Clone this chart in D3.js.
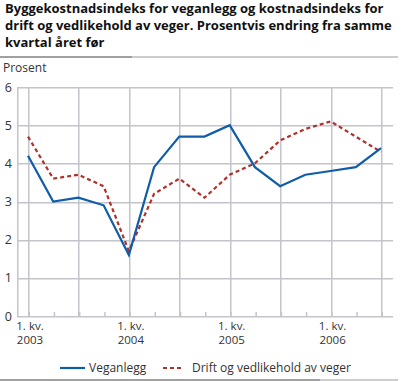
<!DOCTYPE html>
<html><head><meta charset="utf-8">
<script src="https://cdn.jsdelivr.net/npm/d3@7"></script>
<style>body{margin:0;background:#fff}svg{display:block}</style>
</head><body>
<script>
const quarters = ["2003K1","2003K2","2003K3","2003K4","2004K1","2004K2","2004K3","2004K4","2005K1","2005K2","2005K3","2005K4","2006K1","2006K2","2006K3"];
const veganlegg = [4.2,3.0,3.1,2.9,1.6,3.9,4.7,4.7,5.0,3.9,3.4,3.7,3.8,3.9,4.4];
const drift = [4.7,3.6,3.7,3.4,1.7,3.2,3.6,3.1,3.7,4.0,4.6,4.9,5.1,4.7,4.3];
const yTicks = [0,1,2,3,4,5,6];
const xLabelQuarters = ["2003K1","2004K1","2005K1","2006K1"];
const xLabelTop = ["1. kv.","1. kv.","1. kv.","1. kv."];
const xLabelBottom = ["2003","2004","2005","2006"];
const titleLines = ["Byggekostnadsindeks for veganlegg og kostnadsindeks for","drift og vedlikehold av veger. Prosentvis endring fra samme","kvartal året før"];
const seriesNames = ["Veganlegg","Drift og vedlikehold av veger"];
const colors = ["#0f5ca8","#b0302a"];

const W=404,H=381;
const font = "'Open Sans', sans-serif";
const svg = d3.select("body").append("svg").attr("width",W).attr("height",H);

const x = d3.scalePoint().domain(quarters).range([28,381]);
const y = d3.scaleLinear().domain([0,6]).range([316,87]);
const left=17, right=393;
const gridColor = "#c4c4cc";

// title
svg.append("g").selectAll("text").data(titleLines).join("text")
  .attr("x",5).attr("y",(d,i)=>13+i*17)
  .attr("font-family",font).attr("font-weight","bold").attr("font-size",13).attr("fill","#111")
  .text(d=>d);
svg.append("rect").attr("x",0).attr("y",56).attr("width",398).attr("height",2).attr("fill","#cccccc");
svg.append("rect").attr("x",0).attr("y",56).attr("width",132).attr("height",2).attr("fill","#a0a0a0");

svg.append("text").attr("x",3).attr("y",72).attr("font-family",font).attr("font-size",12).attr("fill","#333").text("Prosent");

// horizontal grid
svg.append("g").selectAll("rect").data(yTicks).join("rect")
  .attr("x",left).attr("width",right-left).attr("y",d=>Math.round(y(d))).attr("height",1.5)
  .attr("fill",gridColor);
// vertical grid every second quarter
svg.append("g").selectAll("rect").data(quarters.filter((q,i)=>i%2===0)).join("rect")
  .attr("x",d=>Math.round(x(d))).attr("width",1.5).attr("y",y(6)).attr("height",y(0)-y(6))
  .attr("fill",gridColor);
svg.append("rect").attr("x",left).attr("width",1.5).attr("y",y(6)).attr("height",y(0)-y(6)+1).attr("fill",gridColor);

// y axis
const yAxis = d3.axisLeft(y).tickValues(yTicks).tickSize(0).tickPadding(5).tickFormat(d3.format("d"));
const gy = svg.append("g").attr("transform",`translate(${left},0)`).call(yAxis);
gy.select(".domain").remove();
gy.selectAll("text").attr("font-family",font).attr("font-size",12.5).attr("fill","#333");

// x axis ticks
const xAxis = d3.axisBottom(x).tickSize(-4).tickFormat("");
const gx = svg.append("g").attr("transform",`translate(0.75,${Math.round(y(0))})`).call(xAxis);
gx.select(".domain").remove();
gx.selectAll(".tick line").attr("stroke",gridColor).attr("stroke-width",1.5);

svg.append("g").selectAll("text").data(xLabelQuarters).join("text")
  .attr("x",d=>x(d)+2).attr("y",330)
  .attr("font-family",font).attr("font-size",11.5).attr("fill","#333").attr("text-anchor","middle")
  .text((d,i)=>xLabelTop[i]);
svg.append("g").selectAll("text").data(xLabelQuarters).join("text")
  .attr("x",d=>x(d)+2).attr("y",344)
  .attr("font-family",font).attr("font-size",11.5).attr("fill","#333").attr("text-anchor","middle")
  .text((d,i)=>xLabelBottom[i]);

// lines
const line = d3.line().x((d,i)=>x(quarters[i])).y(d=>y(d));
svg.append("path").datum(drift).attr("d",line).attr("fill","none").attr("stroke",colors[1]).attr("stroke-width",2.2).attr("stroke-dasharray","4,3");
svg.append("path").datum(veganlegg).attr("d",line).attr("fill","none").attr("stroke",colors[0]).attr("stroke-width",2.2);

// legend
const leg = svg.append("g");
leg.append("line").attr("x1",60).attr("x2",85).attr("y1",368).attr("y2",368).attr("stroke",colors[0]).attr("stroke-width",2.2);
leg.append("text").attr("x",89).attr("y",372).attr("font-family",font).attr("font-size",12).attr("fill","#333").text(seriesNames[0]);
leg.append("line").attr("x1",163).attr("x2",184).attr("y1",368).attr("y2",368).attr("stroke",colors[1]).attr("stroke-width",2.2).attr("stroke-dasharray","4,3");
leg.append("text").attr("x",192).attr("y",372).attr("font-family",font).attr("font-size",12).attr("fill","#333").text(seriesNames[1]);

svg.append("rect").attr("x",0).attr("y",379).attr("width",398).attr("height",2).attr("fill","#cccccc");
svg.append("rect").attr("x",0).attr("y",379).attr("width",320).attr("height",2).attr("fill","#a0a0a0");
</script>
</body></html>
